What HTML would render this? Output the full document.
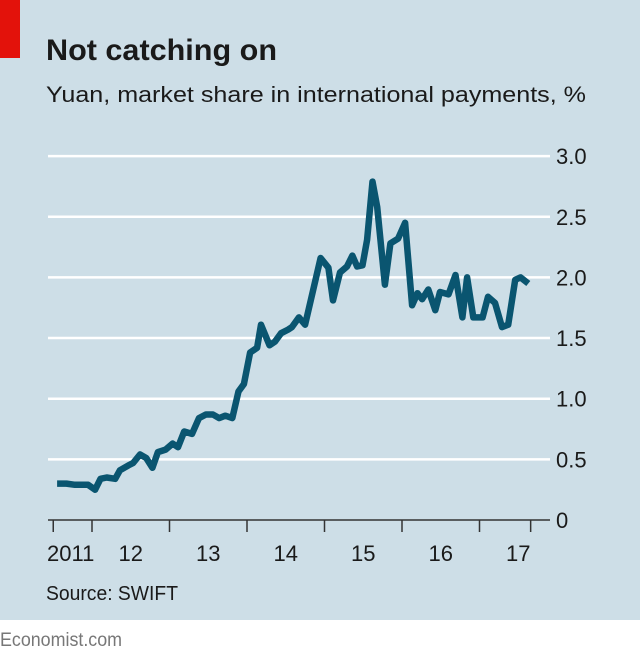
<!DOCTYPE html>
<html><head><meta charset="utf-8"><style>
body{margin:0;width:640px;height:658px;overflow:hidden;background:#fff;font-family:"Liberation Sans",sans-serif}
</style></head><body>
<svg width="640" height="658">
<rect x="0" y="0" width="640" height="620" fill="#cddee7"/>
<rect x="0" y="0" width="20" height="58" fill="#e3120b"/>
<text x="46" y="60" font-size="30" font-weight="bold" fill="#1a1a1a" textLength="231" lengthAdjust="spacingAndGlyphs">Not catching on</text>
<text x="46" y="102" font-size="22" fill="#1a1a1a" textLength="540" lengthAdjust="spacingAndGlyphs">Yuan, market share in international payments, %</text>
<g id="grid"></g><g id="xaxis"></g>
<path id="line" fill="none" stroke="#0a5570" stroke-width="6.5" stroke-linejoin="round"/>
<text x="46" y="600" font-size="20" fill="#1a1a1a" textLength="132" lengthAdjust="spacingAndGlyphs">Source: SWIFT</text>
<text x="0" y="646" font-size="19" fill="#777" textLength="122" lengthAdjust="spacingAndGlyphs">Economist.com</text>
</svg>
<script>
const dates=[2011.55,2011.67,2011.78,2011.95,2012.04,2012.11,2012.19,2012.30,2012.36,2012.47,2012.53,2012.62,2012.70,2012.78,2012.85,2012.95,2013.04,2013.11,2013.19,2013.29,2013.38,2013.47,2013.56,2013.64,2013.72,2013.81,2013.89,2013.96,2014.04,2014.13,2014.18,2014.29,2014.36,2014.44,2014.53,2014.58,2014.67,2014.75,2014.95,2015.05,2015.11,2015.20,2015.29,2015.36,2015.42,2015.49,2015.55,2015.62,2015.68,2015.78,2015.85,2015.95,2016.04,2016.13,2016.20,2016.26,2016.34,2016.43,2016.49,2016.60,2016.69,2016.78,2016.84,2016.92,2017.04,2017.11,2017.20,2017.29,2017.37,2017.46,2017.53,2017.63];
const values=[0.30,0.30,0.29,0.29,0.25,0.34,0.35,0.34,0.41,0.45,0.47,0.54,0.51,0.43,0.56,0.58,0.63,0.60,0.73,0.71,0.84,0.87,0.87,0.84,0.86,0.84,1.06,1.12,1.38,1.42,1.61,1.44,1.47,1.54,1.57,1.59,1.67,1.61,2.16,2.08,1.81,2.04,2.09,2.18,2.09,2.10,2.31,2.79,2.58,1.94,2.28,2.32,2.45,1.77,1.87,1.82,1.90,1.73,1.88,1.86,2.02,1.67,2.00,1.67,1.67,1.84,1.79,1.59,1.61,1.98,2.00,1.95];
const yTicks=[0,0.5,1,1.5,2,2.5,3];
const yTickLabels=["0","0.5","1.0","1.5","2.0","2.5","3.0"];
const xTicks=[2011.5,2012,2013,2014,2015,2016,2017,2017.66];
const xLabels=["2011","12","13","14","15","16","17"];
const xLabelYears=[2011,2012,2013,2014,2015,2016,2017];
const NS="http://www.w3.org/2000/svg";
const x=t=>92+(t-2012)*77.5;
const y=v=>520-v*121.3;
const grid=document.getElementById('grid');
yTicks.forEach((v,i)=>{
  if(v>0){const l=document.createElementNS(NS,'line');
  l.setAttribute('x1',48);l.setAttribute('x2',550);l.setAttribute('y1',y(v));l.setAttribute('y2',y(v));
  l.setAttribute('stroke','#fff');l.setAttribute('stroke-width','2.5');
  
  
  grid.appendChild(l);}
  const t=document.createElementNS(NS,'text');
  t.setAttribute('x',556);t.setAttribute('y',y(v)+8);t.setAttribute('font-size','22');t.setAttribute('fill','#1a1a1a');
  t.textContent=yTickLabels[i];
  
  
  grid.appendChild(t);
});
const xa=document.getElementById('xaxis');
const ax=document.createElementNS(NS,'line');
ax.setAttribute('x1',48);ax.setAttribute('x2',550);ax.setAttribute('y1',520);ax.setAttribute('y2',520);ax.setAttribute('stroke','#333');ax.setAttribute('stroke-width','1.5');


xa.appendChild(ax);
xTicks.forEach(t=>{const l=document.createElementNS(NS,'line');
  l.setAttribute('x1',x(t));l.setAttribute('x2',x(t));l.setAttribute('y1',520);l.setAttribute('y2',532);l.setAttribute('stroke','#333');l.setAttribute('stroke-width','1.5');
  
  
  xa.appendChild(l);});
xLabels.forEach((s,i)=>{const t=document.createElementNS(NS,'text');
  const cx=i===0?47:x(xLabelYears[i]+0.5);
  t.setAttribute('x',cx);t.setAttribute('y',561);t.setAttribute('font-size','22');t.setAttribute('fill','#1a1a1a');
  t.setAttribute('text-anchor',i===0?'start':'middle');
  t.textContent=s;
  
  
  xa.appendChild(t);});
document.getElementById('line').setAttribute('d',dates.map((d,i)=>(i?'L':'M')+x(d).toFixed(1)+','+y(values[i]).toFixed(1)).join(''));
</script>
</body></html>
